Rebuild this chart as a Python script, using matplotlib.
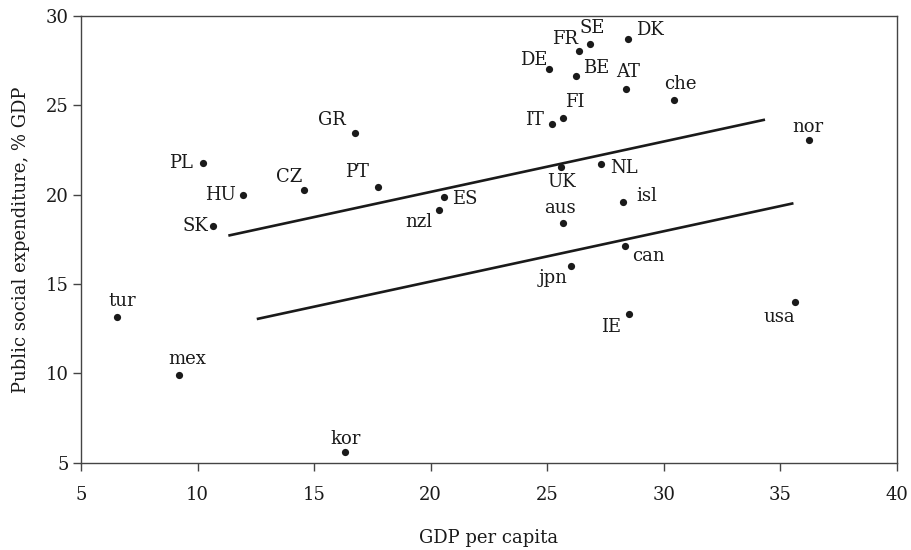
import matplotlib.pyplot as plt

plt.rcParams['font.family'] = ['DejaVu Serif']

# GDP per capita (thousands) vs public social expenditure (% of GDP)
countries = ['tur', 'mex', 'kor', 'PL', 'HU', 'SK', 'CZ', 'GR', 'PT', 'ES', 'nzl',
             'SE', 'FR', 'DK', 'DE', 'BE', 'AT', 'che', 'FI', 'IT', 'nor', 'UK',
             'NL', 'isl', 'aus', 'can', 'jpn', 'IE', 'usa']
gdp = [6.53, 9.19, 16.33, 10.22, 11.96, 10.66, 14.57, 16.74, 17.73, 20.56, 20.37,
       26.85, 26.36, 28.47, 25.09, 26.22, 28.39, 30.44, 25.66, 25.19, 36.23, 25.59,
       27.29, 28.24, 25.66, 28.34, 26.01, 28.51, 35.64]
spend = [13.17, 9.93, 5.62, 21.77, 19.97, 18.23, 20.24, 23.45, 20.43, 19.87, 19.14,
         28.45, 28.06, 28.73, 27.02, 26.64, 25.90, 25.28, 24.27, 23.94, 23.06, 21.57,
         21.74, 19.59, 18.42, 17.13, 15.99, 13.34, 14.00]

# label offset from its dot (pixels) and alignment
label_pos = {
    'tur': (6, 16, 'center'), 'mex': (9, 16, 'center'), 'kor': (0, 13, 'center'),
    'PL': (-10, 0, 'right'), 'HU': (-7, 0, 'right'), 'SK': (-5, 0, 'right'),
    'CZ': (-15, 13, 'center'), 'GR': (-23, 13, 'center'), 'PT': (-21, 15, 'center'),
    'ES': (8, -2, 'left'), 'nzl': (-20, -12, 'center'),
    'SE': (2, 16, 'center'), 'FR': (-14, 12, 'center'), 'DK': (8, 9, 'left'),
    'DE': (-16, 9, 'center'), 'BE': (7, 8, 'left'), 'AT': (2, 17, 'center'),
    'che': (6, 16, 'center'), 'FI': (12, 16, 'center'), 'IT': (-8, 4, 'right'),
    'nor': (-1, 13, 'center'), 'UK': (0, -15, 'center'), 'NL': (9, -4, 'left'),
    'isl': (14, 6, 'left'), 'aus': (-3, 15, 'center'), 'can': (7, -10, 'left'),
    'jpn': (-18, -12, 'center'), 'IE': (-18, -13, 'center'), 'usa': (-16, -15, 'center'),
}

# fitted lines (endpoints)
upper_x = [11.32, 34.34]
upper_y = [17.71, 24.20]
lower_x = [12.54, 35.56]
lower_y = [13.04, 19.52]

fig = plt.figure(figsize=(9.11, 5.5), dpi=100)
ax = fig.add_axes([0.0889, 0.1587, 0.8957, 0.8122])

ax.plot(upper_x, upper_y, color='#1a1a1a', lw=1.9, solid_capstyle='butt')
ax.plot(lower_x, lower_y, color='#1a1a1a', lw=1.9, solid_capstyle='butt')
ax.scatter(gdp, spend, s=27, color='#1a1a1a', zorder=3, linewidths=0)

for name, x, y in zip(countries, gdp, spend):
    dx, dy, ha = label_pos[name]
    ax.annotate(name, (x, y), xytext=(dx, dy), textcoords='offset pixels',
                ha=ha, va='center', fontsize=13, color='#1a1a1a')

ax.set_xlim(5, 40)
ax.set_ylim(5, 30)
ax.set_xticks(range(5, 41, 5))
ax.set_yticks(range(5, 31, 5))
ax.tick_params(direction='out', length=6, width=1, color='#444444',
               labelsize=13, labelcolor='#1a1a1a')
ax.tick_params(axis='x', pad=11)
ax.tick_params(axis='y', pad=3)
for sp in ax.spines.values():
    sp.set_color('#444444')
    sp.set_linewidth(1)

ax.set_xlabel('GDP per capita', fontsize=13, color='#1a1a1a', labelpad=18)
ax.set_ylabel('Public social expenditure, % GDP', fontsize=13, color='#1a1a1a', labelpad=11)

fig.savefig('out.png', dpi=100)
